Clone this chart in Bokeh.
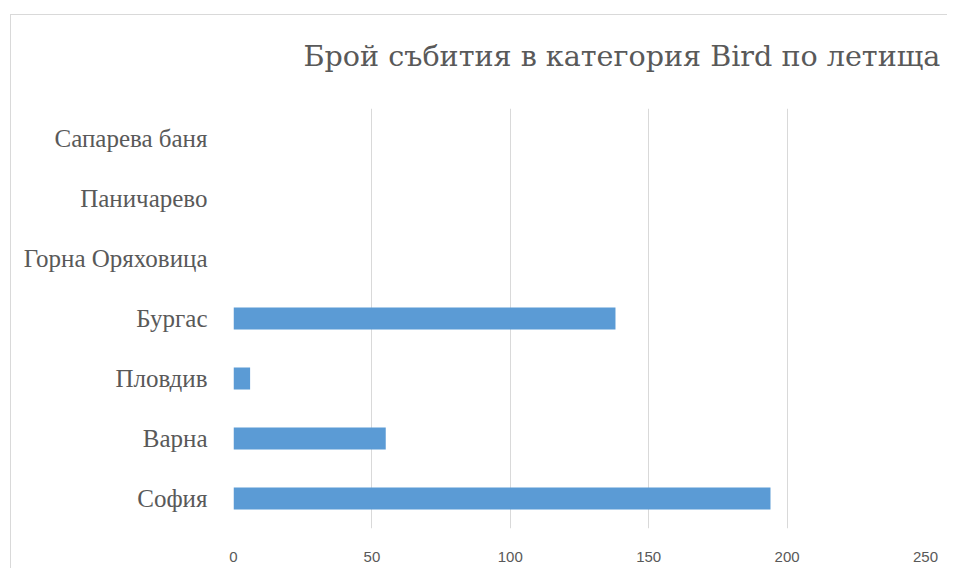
from bokeh.plotting import figure
from bokeh.models import Range1d, FactorRange, FixedTicker, ColumnDataSource, Title
from bokeh.embed import file_html
from bokeh.resources import INLINE

title_text = "Брой събития в категория Bird по летища"
airports = ["София", "Варна", "Пловдив", "Бургас", "Горна Оряховица", "Паничарево", "Сапарева баня"]
events = [194, 55, 6, 138, 0, 0, 0]
x_ticks = [0, 50, 100, 150, 200, 250]

source = ColumnDataSource(data=dict(airport=airports, events=events))

p = figure(width=937, height=554, output_backend="svg", toolbar_location=None,
           y_range=FactorRange(*airports, range_padding=0),
           x_range=Range1d(0, 250),
           min_border_left=222, min_border_right=23, min_border_top=93, min_border_bottom=41)

p.hbar(y="airport", right="events", left=0, height=0.37, source=source,
       fill_color="#5B9BD5", line_color=None)

p.outline_line_color = None
p.background_fill_color = "white"
p.border_fill_color = "white"

spacer = Title(text=" ", text_font_size="10px", standoff=4)
p.add_layout(spacer, "above")
main_title = Title(text=title_text, text_font="DejaVu Serif", text_font_size="28.6px",
                   text_font_style="normal", text_color="#595959",
                   align="left", offset=70, standoff=38)
p.add_layout(main_title, "above")

p.xgrid.ticker = FixedTicker(ticks=x_ticks)
p.xgrid.grid_line_color = "#D9D9D9"
p.xgrid.grid_line_width = 1
p.ygrid.grid_line_color = None

p.xaxis.ticker = FixedTicker(ticks=x_ticks)
p.xaxis.axis_line_color = None
p.xaxis.major_tick_line_color = None
p.xaxis.minor_tick_line_color = None
p.xaxis.major_label_text_font = "Liberation Sans"
p.xaxis.major_label_text_font_size = "15px"
p.xaxis.major_label_text_color = "#595959"
p.xaxis.major_label_standoff = 17

p.yaxis.axis_line_color = None
p.yaxis.major_tick_line_color = None
p.yaxis.minor_tick_line_color = None
p.yaxis.major_label_text_font = "Liberation Serif"
p.yaxis.major_label_text_font_size = "25px"
p.yaxis.major_label_text_color = "#595959"
p.yaxis.major_label_standoff = 20

p.styles = {"margin-left": "10px", "margin-top": "14px",
            "border-left": "1px solid #D9D9D9", "border-top": "1px solid #D9D9D9"}

open("out.html", "w").write(file_html(p, INLINE))
